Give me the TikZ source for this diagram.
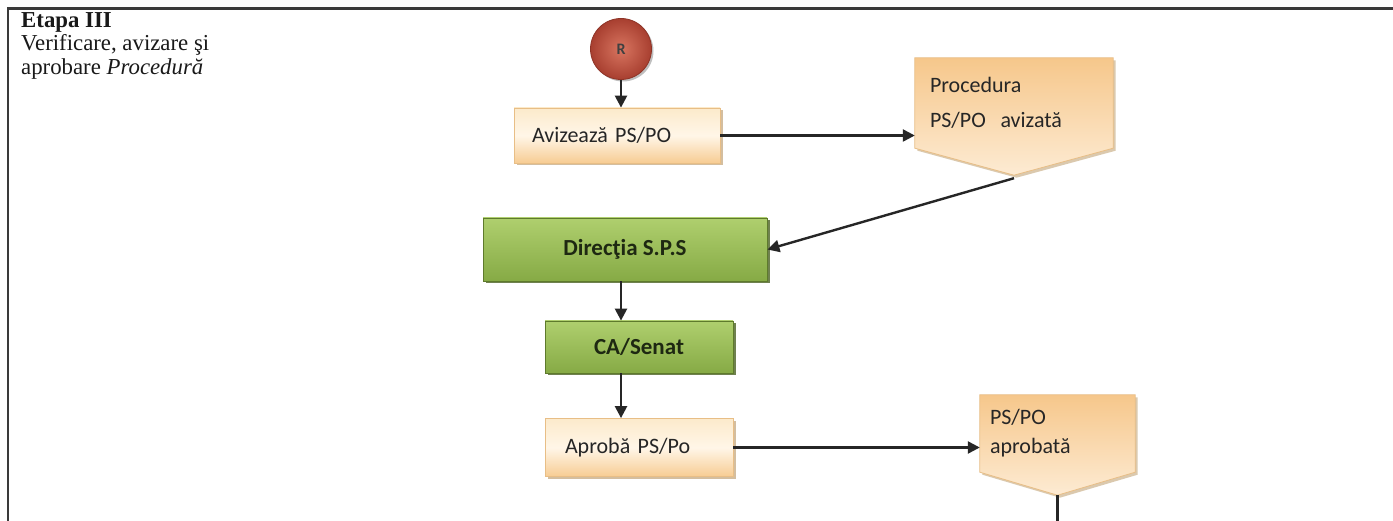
\documentclass[tikz,border=0pt]{standalone}
\usepackage{fontspec}
\setmainfont{Liberation Serif}
\newfontfamily\calfont{Carlito}
\usetikzlibrary{arrows.meta,shadows,backgrounds,calc}
\definecolor{framec}{HTML}{3A3A3A}
\definecolor{peachtop}{HTML}{FCEACB}
\definecolor{peachmid}{HTML}{FFF6E8}
\definecolor{peachbot}{HTML}{F7CC93}
\definecolor{peachedge}{HTML}{E8BE86}
\definecolor{greentop}{HTML}{AFCF6E}
\definecolor{greenbot}{HTML}{86AA45}
\definecolor{greenedge}{HTML}{5E7A2C}
\definecolor{greentext}{HTML}{1E2812}
\definecolor{ballin}{HTML}{D87560}
\definecolor{ballout}{HTML}{A83F30}
\definecolor{balledge}{HTML}{8E3427}
\definecolor{doctop}{HTML}{F6C78B}
\definecolor{docbot}{HTML}{FDEBD3}
\definecolor{shadowc}{HTML}{B8945F}
\begin{document}
\begin{tikzpicture}[x=1pt,y=-1pt,
  conn/.style={line width=2.4pt, black!85},
  arr/.style={conn, -{Triangle[length=12pt,width=12pt]}},
  peachbox/.style={draw=peachedge, line width=0.8pt, top color=peachtop, bottom color=peachbot, middle color=peachmid,
    drop shadow={shadow xshift=2.5pt, shadow yshift=-2.5pt, fill=shadowc, opacity=0.6},
    font=\calfont\fontsize{22}{26}\selectfont, text=black!85, align=left, inner ysep=0pt},
  greenbox/.style={draw=greenedge, line width=0.8pt, top color=greentop, bottom color=greenbot,
    drop shadow={shadow xshift=2.5pt, shadow yshift=-2.5pt, fill=greenedge!80!black, opacity=0.8},
    font=\calfont\bfseries\fontsize{23}{26}\selectfont, text=greentext, inner sep=0pt},
  doctext/.style={text=black!85, align=left, inner sep=0pt},
  docshape/.style={draw=peachedge, line width=0.8pt, top color=doctop, bottom color=docbot,
    drop shadow={shadow xshift=2.5pt, shadow yshift=-2.5pt, fill=shadowc, opacity=0.5}},
  title/.style={font=\fontsize{22.8}{23.5}\selectfont, align=left, anchor=north west, inner sep=0pt, text=black!90}
]
\useasboundingbox (0,0) rectangle (1393,521);
\begin{scope}[on background layer]
  \fill[white] (0,0) rectangle (1393,521);
\end{scope}
% frame
\coordinate (fTL) at (8,8.5);
\coordinate (fTR) at (1393,8.5);
\coordinate (fBL) at (8,521);
\draw[framec, line width=2.5pt] (fBL) -- (fTL) -- (fTR);
% title
\node[title] (ttl) at (21,12) {\textbf{Etapa III}\\Verificare, avizare şi\\aprobare \textit{Procedură}};
% start circle
\node[circle, minimum size=61pt, inner sep=0pt, draw=balledge, line width=0.8pt, inner color=ballin, outer color=ballout,
  drop shadow={shadow xshift=2pt, shadow yshift=-2pt, fill=black, opacity=0.25},
  font=\calfont\bfseries\fontsize{16}{16}\selectfont, text=black!75] (R) at (621,49) {R};
% boxes
\node[peachbox, minimum width=206pt, minimum height=55pt, text width=170pt, inner xsep=18pt] (aviz) at (617,135.5) {Avizează PS/PO};
\node[greenbox, minimum width=284pt, minimum height=63pt] (dir) at (625,249.5) {Direcţia S.P.S};
\node[greenbox, minimum width=188pt, minimum height=52pt] (ca) at (639,347) {CA/Senat};
\node[peachbox, minimum width=188pt, minimum height=58pt, text width=148pt, inner xsep=20pt] (apr) at (639,447.5) {Aprobă PS/Po};
% documents
\node[doctext, font=\calfont\fontsize{22}{35}\selectfont, minimum width=198pt, minimum height=90pt, text width=168pt] (doc1) at (1014,103) {Procedura\\PS/PO\ \ avizată};
\coordinate (doc1tip) at ($(doc1.south)+(0,27)$);
\node[doctext, font=\calfont\fontsize{22}{29}\selectfont, minimum width=155pt, minimum height=77pt, text width=135pt] (doc2) at (1057.5,433.5) {PS/PO\\aprobată};
\coordinate (doc2tip) at ($(doc2.south)+(0,23)$);
\begin{scope}[on background layer]
  \path[docshape] (doc1.north west) -- (doc1.north east) -- (doc1.south east) -- (doc1tip) -- (doc1.south west) -- cycle;
  \path[docshape] (doc2.north west) -- (doc2.north east) -- (doc2.south east) -- (doc2tip) -- (doc2.south west) -- cycle;
\end{scope}
\coordinate (bot) at (doc2tip |- fBL);
% connectors
\draw[arr] (R.south) -- (R.south |- aviz.north);
\draw[arr] (aviz.east) -- (aviz.east -| doc1.west);
\draw[arr] ($(doc1tip)+(0,3)$) -- (dir.east);
\draw[arr] (dir.south -| R.south) -- (ca.north -| R.south);
\draw[arr] (ca.south -| R.south) -- (apr.north -| R.south);
\draw[arr] (apr.east) -- (apr.east -| doc2.west);
\draw[conn] (doc2tip) -- (bot);
\end{tikzpicture}
\end{document}
